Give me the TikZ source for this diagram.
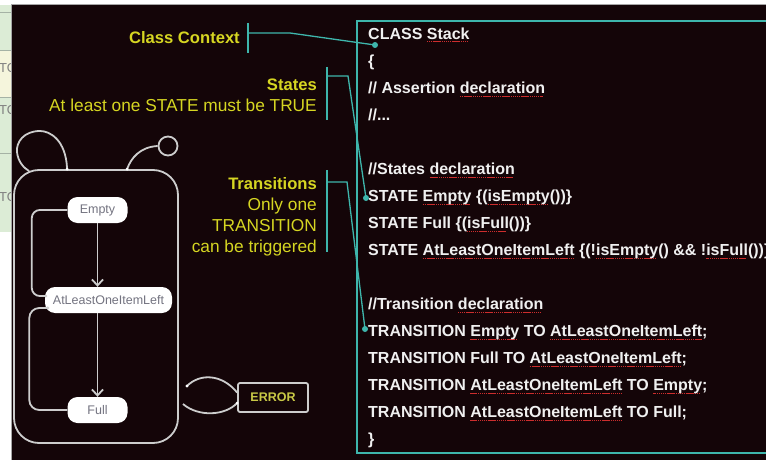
\documentclass[tikz,border=0pt]{standalone}
\usepackage{fontspec}
\setmainfont{Liberation Sans}
\usetikzlibrary{arrows.meta,calc}

\definecolor{panel}{RGB}{20,5,8}
\definecolor{callout}{RGB}{62,182,172}
\definecolor{labelyel}{RGB}{214,214,34}
\definecolor{codewhite}{RGB}{240,240,240}
\definecolor{squig}{RGB}{205,45,45}
\definecolor{wire}{RGB}{205,205,205}
\definecolor{nodetext}{RGB}{115,115,128}
\definecolor{errtext}{RGB}{200,200,70}
\definecolor{tablegreen}{RGB}{220,236,214}
\definecolor{tablecream}{RGB}{245,245,220}
\definecolor{tableline}{RGB}{165,178,165}

% red spell-check underline under a word
\newsavebox\sqbox
\newcommand\sq[1]{\sbox\sqbox{#1}%
  \rlap{\textcolor{squig}{\leaders\hbox{\rule[-2.6pt]{1.3pt}{0.8pt}\kern0.6pt}\hskip\wd\sqbox}}%
  \usebox\sqbox}

\newcommand\codefont{\fontsize{16}{16}\selectfont\bfseries}
\newcommand\lblbfont{\fontsize{16.6}{16.6}\selectfont\bfseries}
\newcommand\lblrfont{\fontsize{17.3}{17.3}\selectfont}

\tikzset{
  codeline/.style={anchor=base west, inner sep=0, text=codewhite, font=\codefont},
  lblhead/.style={anchor=base east, inner sep=0, text=labelyel, font=\lblbfont},
  lblbody/.style={anchor=base east, inner sep=0, text=labelyel, font=\lblrfont},
  bracket/.style={draw=callout, line width=1.3},
  calldot/.style={fill=callout},
  wireline/.style={draw=wire, line width=1.8},
  machine/.style={wireline, rounded corners=25, minimum width=164, minimum height=273, inner sep=0},
  statebox/.style={fill=white, rounded corners=10, minimum height=26, inner sep=0,
    text=nodetext, font=\fontsize{12.5}{12.5}\selectfont},
  flow/.style={wireline, -{Straight Barb[length=6pt,width=11pt]}},
  errbox/.style={wireline, fill=panel, rounded corners=2, minimum width=70, minimum height=29,
    inner sep=0, text=errtext, font=\fontsize{12.5}{12.5}\selectfont\bfseries},
  tabtext/.style={anchor=west, inner sep=0, text=gray, font=\fontsize{13}{13}\selectfont}
}

\begin{document}
\begin{tikzpicture}[x=1pt,y=-1pt]
\useasboundingbox (0,0) rectangle (766,460);
\begin{scope}
\clip (0,0) rectangle (766,460);

% page and the table strip at the left edge
\fill[white] (0,0) rectangle (766,460);
\fill[tablegreen] (0,5) rectangle (11,232);
\fill[tablecream] (0,50) rectangle (11,97);
\foreach \yy in {12,50,97,153}
  \draw[tableline, line width=0.8] (0,\yy) -- (11,\yy);
\begin{scope}
  \clip (0,0) rectangle (11,460);
  \node[tabtext] (tab1) at (-1,68) {TO};
  \node[tabtext] (tab2) at (-1,110) {TO};
  \node[tabtext] (tab3) at (-1,197) {TO};
\end{scope}

% dark slide panel
\fill[panel] (11,5) rectangle (766,460);
\draw[gray!70, line width=1] (11,460) -- (11,4.5) -- (766,4.5);

% code frame
\draw[callout, line width=2.6] (357,21) rectangle (790,453);

% code listing
\begin{scope}
  \clip (357,0) rectangle (766,460);
  \node[codeline] (l0)  at (368,39.7)  {CLASS \sq{Stack}};
  \node[codeline] (l1)  at (368,66.7)  {\{};
  \node[codeline] (l2)  at (368,93.7)  {// Assertion \sq{declaration}};
  \node[codeline] (l3)  at (368,120.7) {//...};
  \node[codeline] (l5)  at (368,174.7) {//States \sq{declaration}};
  \node[codeline] (l6)  at (368,201.7) {STATE \sq{Empty} \{(\sq{isEmpty}())\}};
  \node[codeline] (l7)  at (368,228.7) {STATE Full \{(\sq{isFull}())\}};
  \node[codeline] (l8)  at (368,255.7) {STATE \sq{AtLeastOneItemLeft} \{(!\sq{isEmpty}() \&\& !\sq{isFull}())\}};
  \node[codeline] (l10) at (368,309.7) {//Transition \sq{declaration}};
  \node[codeline] (l11) at (368,336.7) {TRANSITION \sq{Empty} TO \sq{AtLeastOneItemLeft};};
  \node[codeline] (l12) at (368,363.7) {TRANSITION Full TO \sq{AtLeastOneItemLeft};};
  \node[codeline] (l13) at (368,390.7) {TRANSITION \sq{AtLeastOneItemLeft} TO \sq{Empty};};
  \node[codeline] (l14) at (368,417.7) {TRANSITION \sq{AtLeastOneItemLeft} TO Full;};
  \node[codeline] (l15) at (368,444.7) {\}};
\end{scope}

% callout labels
\node[lblhead] (ctx)   at (240,44)  {Class Context};
\node[lblhead] (sts)   at (317,91)  {States};
\node[lblbody] (stsb)  at (317,111) {At least one STATE must be TRUE};
\node[lblhead] (trs)   at (317,189) {Transitions};
\node[lblbody] (trs1)  at (317,210) {Only one};
\node[lblbody] (trs2)  at (317,231) {TRANSITION};
\node[lblbody] (trs3)  at (317,252) {can be triggered};

% callout brackets and leaders
\coordinate (ctxT) at (248,23);  \coordinate (ctxB) at (248,53);
\coordinate (ctxM) at (248,33);  \coordinate (ctxK) at (290,33);
\coordinate (ctxD) at (375,45);
\draw[bracket] (ctxT) -- (ctxB);
\draw[bracket] (ctxM) -- (ctxK) -- (ctxD);
\fill[calldot] (ctxD) circle (3);

\coordinate (stsT) at (327,67);  \coordinate (stsB) at (327,120);
\coordinate (stsM) at (327,76);  \coordinate (stsK) at (348,76);
\coordinate (stsD) at (366,198);
\draw[bracket] (stsT) -- (stsB);
\draw[bracket] (stsM) -- (stsK) -- (stsD);
\fill[calldot] (stsD) circle (3);

\coordinate (trsT) at (327,170); \coordinate (trsB) at (327,252);
\coordinate (trsM) at (327,182); \coordinate (trsK) at (347,182);
\coordinate (trsD) at (365,329);
\draw[bracket] (trsT) -- (trsB);
\draw[bracket] (trsM) -- (trsK) -- (trsD);
\fill[calldot] (trsD) circle (3);

% state machine
\node[machine] (sm) at (96,306.5) {};
\node[statebox, minimum width=60]  (empty) at (97.5,210) {Empty};
\node[statebox, minimum width=127] (atl)   at (108.5,300) {AtLeastOneItemLeft};
\node[statebox, minimum width=60]  (full)  at (97.5,410) {Full};

\draw[flow] (empty.south) -- (empty.south |- atl.north);
\draw[flow] (full.north |- atl.south) -- (full.north);

\coordinate (upS) at ($(atl.west)+(1,-4)$);
\coordinate (dnE) at ($(atl.west)+(3,8)$);
\draw[wireline, rounded corners=8] (upS) -- ++(-14,0) |- (empty.west);
\draw[wireline, rounded corners=10] (full.west) -- ++(-38,0) |- (dnE);
\fill[wire] (upS) circle (1.6);
\fill[wire] (dnE) circle (1.6);

% self loop and final state above the machine
\coordinate (loopS) at ($(sm.north west)+(54,0)$);
\coordinate (loopE) at ($(sm.north west)+(16,2)$);
\draw[wireline] (loopS) .. controls (66,140) and (50,131) .. (40,131)
  .. controls (24,131) and (16,142) .. (17,152)
  .. controls (18,162) and (24,168) .. (loopE);
\fill[white] (loopS) circle (1.6);

\node[wireline, circle, minimum size=19, inner sep=0] (final) at (168,146) {};
\coordinate (finS) at ($(sm.north west)+(114,0)$);
\draw[wireline] (finS) .. controls (131,158) and (140,147) .. (final.west);
\fill[white] (finS) circle (1.6);

% error state
\node[errbox] (err) at (273,397.5) {ERROR};
\coordinate (eA) at (187,386);
\coordinate (eB) at (183,404);
\draw[wireline] (eA) .. controls (200,373) and (222,374) .. ($(err.west)+(0,-5)$);
\draw[wireline] (eB) .. controls (198,417) and (225,416) .. ($(err.west)+(0,5.5)$);
\fill[white] (eA) circle (1.6);
\fill[white] ($(err.west)+(0,5.5)$) circle (1.6);

\end{scope}
\end{tikzpicture}
\end{document}
